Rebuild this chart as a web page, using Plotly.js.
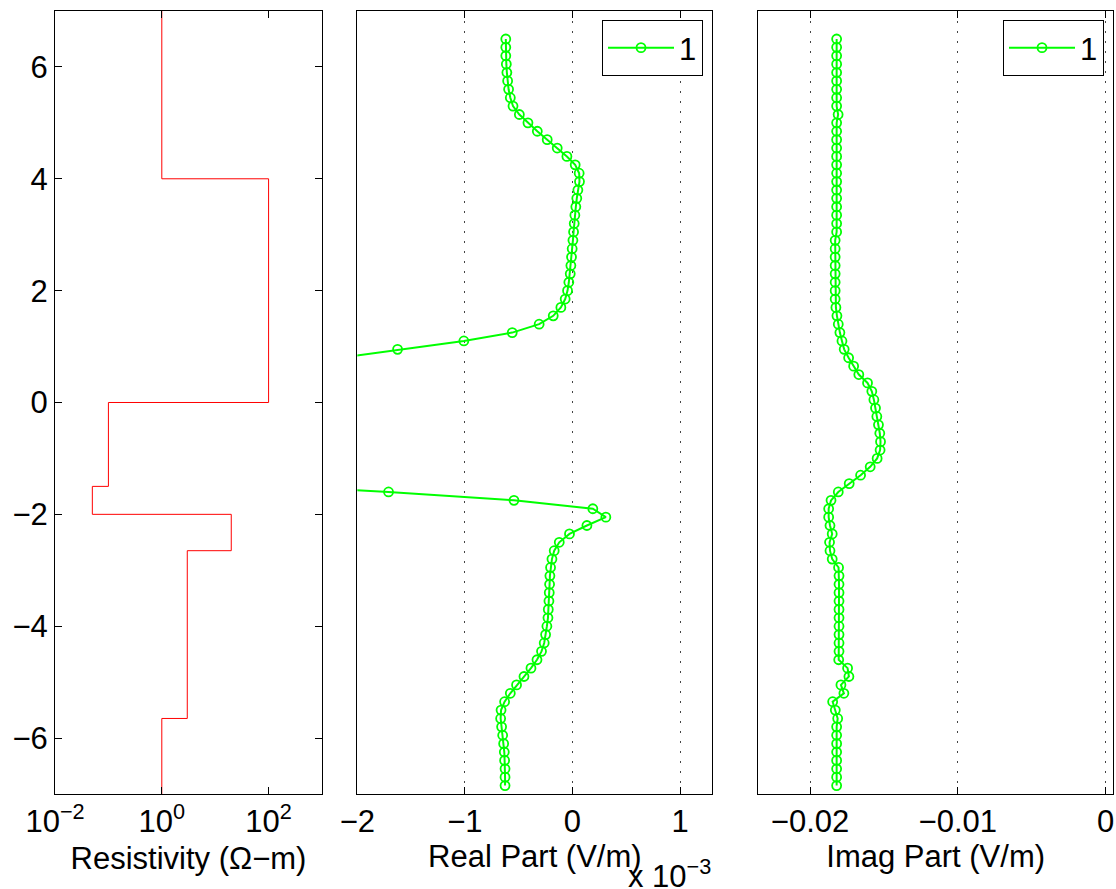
<!DOCTYPE html>
<html>
<head>
<meta charset="utf-8">
<script src="https://cdn.plot.ly/plotly-3.0.1.min.js"></script>
<style>html,body{margin:0;padding:0;background:#fff;}#chart{width:1116px;height:889px;}</style>
</head>
<body>
<div id="chart"></div>
<script>
// Resistivity model (layers)
const layerTop    = [7, 4, 0, -1.5, -2, -2.65, -5.65];
const layerBottom = [4, 0, -1.5, -2, -2.65, -5.65, -7];
const layerRho    = [1, 100, 0.1, 0.05, 20, 3, 1];

// Depth samples for field curves
const depth = [6.5, 6.35, 6.2, 6.05, 5.9, 5.75, 5.6, 5.45, 5.3, 5.15,
  5.0, 4.85, 4.7, 4.55, 4.4, 4.25, 4.1, 3.95, 3.8, 3.65,
  3.5, 3.35, 3.2, 3.05, 2.9, 2.75, 2.6, 2.45, 2.3, 2.15,
  2.0, 1.85, 1.7, 1.55, 1.4, 1.25, 1.1, 0.95, 0.8, 0.65,
  0.5, 0.35, 0.2, 0.05, -0.1, -0.25, -0.4, -0.55, -0.7, -0.85,
  -1.0, -1.15, -1.3, -1.45, -1.6, -1.75, -1.9, -2.05, -2.2, -2.35,
  -2.5, -2.65, -2.8, -2.95, -3.1, -3.25, -3.4, -3.55, -3.7, -3.85,
  -4.0, -4.15, -4.3, -4.45, -4.6, -4.75, -4.9, -5.05, -5.2, -5.35,
  -5.5, -5.65, -5.8, -5.95, -6.1, -6.25, -6.4, -6.55, -6.7, -6.85];

// Real part, in units of 1e-3 V/m
const realPart = [-0.62, -0.62, -0.62, -0.615, -0.61, -0.603, -0.594, -0.578, -0.553, -0.494,
  -0.414, -0.327, -0.235, -0.142, -0.052, 0.025, 0.062, 0.065, 0.05, 0.04,
  0.031, 0.022, 0.016, 0.01, 0.004, -0.003, -0.009, -0.015, -0.021, -0.034,
  -0.046, -0.068, -0.108, -0.179, -0.31, -0.56, -1.01, -1.626, -2.2, -2.9,
  -3.5, -4.1, -4.6, -5.0, -5.3, -5.4, -5.4, -5.3, -5.1, -4.8,
  -4.4, -3.9, -3.4, -3.05, -1.71, -0.544, 0.189, 0.31, 0.134, -0.028,
  -0.123, -0.17, -0.191, -0.204, -0.21, -0.213, -0.216, -0.219, -0.225, -0.228,
  -0.238, -0.25, -0.263, -0.288, -0.33, -0.386, -0.451, -0.52, -0.578, -0.631,
  -0.664, -0.668, -0.659, -0.649, -0.64, -0.634, -0.631, -0.627, -0.627, -0.627];

// Imaginary part, V/m
const imagPart = [-0.0182, -0.0182, -0.0182, -0.0182, -0.0182, -0.0182, -0.0182, -0.0182, -0.0182, -0.0181,
  -0.0182, -0.0182, -0.0182, -0.0182, -0.0182, -0.0182, -0.0182, -0.0182, -0.0182, -0.0182,
  -0.0182, -0.0182, -0.0182, -0.0182, -0.0183, -0.0183, -0.0183, -0.0183, -0.0183, -0.0183,
  -0.0183, -0.0183, -0.01825, -0.01818, -0.01809, -0.01798, -0.01784, -0.01769, -0.01739, -0.01705,
  -0.0167, -0.01611, -0.01582, -0.01568, -0.01557, -0.01548, -0.01537, -0.01528, -0.01523, -0.01526,
  -0.01546, -0.01593, -0.01658, -0.01735, -0.01809, -0.01858, -0.01874, -0.01874, -0.01865, -0.0185,
  -0.01868, -0.01865, -0.0185, -0.01807, -0.01804, -0.01804, -0.01804, -0.01804, -0.01804, -0.01804,
  -0.01804, -0.01804, -0.01804, -0.01804, -0.01806, -0.01746, -0.01737, -0.01791, -0.01771, -0.01847,
  -0.01829, -0.01813, -0.0182, -0.0182, -0.0182, -0.0182, -0.0182, -0.0182, -0.0182, -0.0182];

const rhoTickVals = [0.01, 1, 100];
const rhoTickText = ['10<sup>−2</sup>', '10<sup>0</sup>', '10<sup>2</sup>'];
const seriesName = '1';

// build stair line from layers
const stairX = [], stairY = [];
for (let i = 0; i < layerRho.length; i++) {
  stairX.push(layerRho[i], layerRho[i]);
  stairY.push(layerTop[i], layerBottom[i]);
}

const FONT = 'Arial, "Liberation Sans", Helvetica, sans-serif';
const FS = 31;
const green = '#00ff00';
const markerStyle = {symbol: 'circle-open', size: 9, color: green, line: {width: 1.8}};

const traces = [
  {x: stairX, y: stairY, xaxis: 'x', yaxis: 'y', mode: 'lines',
   line: {color: '#ff0000', width: 1}, showlegend: false, hoverinfo: 'skip'},
  {x: realPart, y: depth, xaxis: 'x2', yaxis: 'y2', mode: 'lines+markers', name: seriesName,
   line: {color: green, width: 2}, marker: markerStyle,
   legend: 'legend', showlegend: true},
  {x: imagPart, y: depth, xaxis: 'x3', yaxis: 'y3', mode: 'lines+markers', name: seriesName,
   line: {color: green, width: 2}, marker: markerStyle,
   legend: 'legend2', showlegend: true}
];

const yDom = [0.1069, 0.9876];
const axBase = {
  showline: true, linecolor: '#000', linewidth: 1, mirror: 'ticks',
  ticks: 'inside', ticklen: 7, tickcolor: '#000', tickwidth: 1,
  zeroline: false, showgrid: false,
  tickfont: {family: FONT, size: FS, color: '#000'}
};
const titleFont = {family: FONT, size: FS, color: '#000'};
const gridStyle = {showgrid: true, gridcolor: '#444', griddash: '2px,8px', gridwidth: 1};

const layout = {
  width: 1116, height: 889,
  margin: {l: 0, r: 0, t: 0, b: 0},
  paper_bgcolor: '#fff', plot_bgcolor: '#fff',
  font: {family: FONT, size: FS, color: '#000'},
  xaxis: Object.assign({}, axBase, {
    domain: [0.0493, 0.2885], type: 'log', range: [-2, 3], anchor: 'y',
    tickmode: 'array', tickvals: rhoTickVals, ticktext: rhoTickText,
    title: {text: 'Resistivity (Ω−m)', font: titleFont, standoff: 9}
  }),
  yaxis: Object.assign({}, axBase, {
    domain: yDom, range: [-7, 7], anchor: 'x', tick0: 0, dtick: 2
  }),
  xaxis2: Object.assign({}, axBase, gridStyle, {
    domain: [0.3202, 0.6383], range: [-2, 1.3], anchor: 'y2', tick0: 0, dtick: 1,
    title: {text: 'Real Part (V/m)', font: titleFont, standoff: 5}
  }),
  yaxis2: Object.assign({}, axBase, {
    domain: yDom, range: [-7, 7], anchor: 'x2', ticks: '', showticklabels: false, mirror: true
  }),
  xaxis3: Object.assign({}, axBase, gridStyle, {
    domain: [0.6795, 0.9973], range: [-0.0235, 0.0005], anchor: 'y3', tick0: 0, dtick: 0.01,
    title: {text: 'Imag Part (V/m)', font: titleFont, standoff: 5}
  }),
  yaxis3: Object.assign({}, axBase, {
    domain: yDom, range: [-7, 7], anchor: 'x3', ticks: '', showticklabels: false, mirror: true
  }),
  legend: {
    x: 703 / 1116, y: 1 - 20 / 889, xanchor: 'right', yanchor: 'top',
    bordercolor: '#000', borderwidth: 1, bgcolor: '#fff',
    font: {family: FONT, size: FS, color: '#000'}, itemwidth: 66
  },
  legend2: {
    x: 1104 / 1116, y: 1 - 20 / 889, xanchor: 'right', yanchor: 'top',
    bordercolor: '#000', borderwidth: 1, bgcolor: '#fff',
    font: {family: FONT, size: FS, color: '#000'}, itemwidth: 66
  },
  annotations: [{
    xref: 'paper', yref: 'paper', x: 626 / 1116, y: 0, xanchor: 'left', yanchor: 'bottom',
    yshift: -7,
    text: 'x 10<sup>−3</sup>', showarrow: false, font: {family: FONT, size: FS, color: '#000'}
  }]
};

Plotly.newPlot('chart', traces, layout, {displayModeBar: false, staticPlot: true});
</script>
</body>
</html>
